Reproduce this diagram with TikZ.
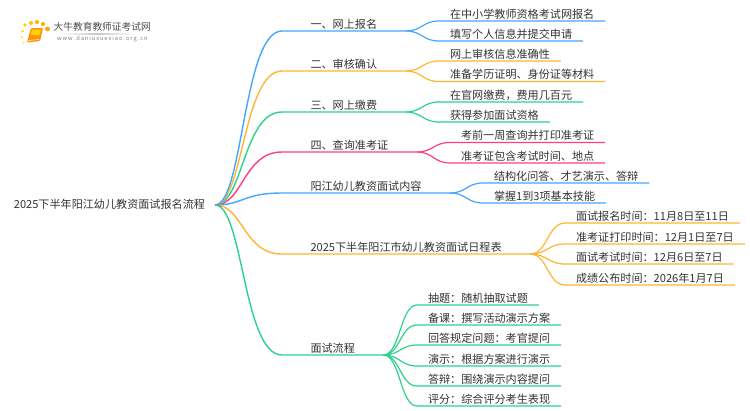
\documentclass[tikz,border=0pt]{standalone}
\usepackage{fontspec}
\setmainfont{Noto Sans CJK SC}
\usetikzlibrary{
  positioning,
  calc,         % Calculations $...$
}
\definecolor{myblue}{HTML}{45A5FF}
\definecolor{myorange}{HTML}{FFB432}
\definecolor{mygreen}{HTML}{2DD28C}
\definecolor{mypink}{HTML}{FF3C88}
\definecolor{mytext}{HTML}{333333}
\def\myfont{\fontsize{11.1}{13}\selectfont}
\tikzset{
  x=1pt,
  y=-1pt,
  my text/.style={
    font=\myfont,
    text=mytext,
    text height=10pt,
    text depth=3pt,
    inner ysep=0pt,
    outer sep=0pt
  },
  my root/.style={
    my text,
    anchor=east,
    inner xsep=10pt
  },
  my branch/.style={
    my text,
    anchor=south west,
    inner xsep=28.5pt
  },
  my leaf/.style={
    my text,
    anchor=south west,
    inner xsep=11pt
  },
  % Horizontal S-curve, control points at a fraction of the way
  link/.style={
    to path={
      let \p1=(\tikztostart), \p2=(\tikztotarget),
          \p3=($(\tikztostart)!#1!(\tikztotarget)$) in
      .. controls (\x3,\y1) and (\x3,\y2) .. (\tikztotarget) \tikztonodes
    }
  },
  main line/.style={
    link=0.42,
    line width=1.4pt
  },
  sub line/.style={
    link=0.5,
    line width=1.2pt
  }
}
\begin{document}
\begin{tikzpicture}
\useasboundingbox (0,0) rectangle (750,410);

% Logo
\foreach \dotx/\doty/\dotr/\dotc in {25/25/1.9/35,31/23/2/45,37/22/2.1/55,43/24/2.1/60,47.5/29/2.4/70,22.7/31/1.5/25,22/37/1.2/20,23.5/42.5/1/15}
  \fill[orange!\dotc!yellow] (\dotx,\doty) circle[radius=\dotr];
\fill[orange!85!yellow,rounded corners=1pt] (31,28) -- (43,28) -- (40,41) -- (27,42.5) -- cycle;
\fill[yellow!70!orange] (32,29.5) -- (41,29.5) -- (39.5,35) -- (30.7,35) -- cycle;
\draw[white,line width=.5pt] (28.5,40.5) -- (39,39.5);
\shade[left color=white,right color=white,middle color=black!22] (60,33) rectangle (135,34);
\node[font=\fontsize{9.7}{12}\selectfont,text=black!70,inner sep=0pt,anchor=west] (logo) at (53.5,27) {大牛教育教师证考试网};
\node[font=\fontsize{5.7}{8}\selectfont,text=black!50,inner sep=0pt,anchor=west] (url) at (57,39.2) {w\,w\,w\,.\,d\,a\,n\,i\,u\,x\,u\,e\,x\,i\,a\,o\,.\,o\,r\,g\,.\,c\,n};

\node[my root] (root) at (215,205) {2025下半年阳江幼儿教资面试报名流程};

\node[my branch] (one) at (282,31) {一、网上报名};
\node[my leaf] (one1) at (439,21) {在中小学教师资格考试网报名};
\node[my leaf] (one2) at (439,41) {填写个人信息并提交申请};

\node[my branch] (two) at (282,71) {二、审核确认};
\node[my leaf] (two1) at (439,61) {网上审核信息准确性};
\node[my leaf] (two2) at (439,81.5) {准备学历证明、身份证等材料};

\node[my branch] (three) at (282,112) {三、网上缴费};
\node[my leaf] (three1) at (439,102) {在官网缴费，费用几百元};
\node[my leaf] (three2) at (439,122) {获得参加面试资格};

\node[my branch] (four) at (282,152) {四、查询准考证};
\node[my leaf] (four1) at (450,142.5) {考前一周查询并打印准考证};
\node[my leaf] (four2) at (450,163) {准考证包含考试时间、地点};

\node[my branch] (content) at (282,193) {阳江幼儿教资面试内容};
\node[my leaf] (content1) at (483,183) {结构化问答、才艺演示、答辩};
\node[my leaf] (content2) at (483,203) {掌握1到3项基本技能};

\node[my branch] (sched) at (282,254) {2025下半年阳江市幼儿教资面试日程表};
\node[my leaf] (sched1) at (565,223) {面试报名时间：11月8日至11日};
\node[my leaf] (sched2) at (565,244) {准考证打印时间：12月1日至7日};
\node[my leaf] (sched3) at (565,264) {面试考试时间：12月6日至7日};
\node[my leaf] (sched4) at (565,285) {成绩公布时间：2026年1月7日};

\node[my branch] (flow) at (282,355) {面试流程};
\node[my leaf] (flow1) at (417,305) {抽题：随机抽取试题};
\node[my leaf] (flow2) at (417,325) {备课：撰写活动演示方案};
\node[my leaf] (flow3) at (417,345) {回答规定问题：考官提问};
\node[my leaf] (flow4) at (417,366) {演示：根据方案进行演示};
\node[my leaf] (flow5) at (417,386) {答辩：围绕演示内容提问};
\node[my leaf] (flow6) at (417,406) {评分：综合评分考生表现};

\draw[main line,myorange] (root.east) to (sched.south west) -- (sched.south east);
\draw[main line,mygreen] (root.east) to (flow.south west) -- (flow.south east);
\draw[main line,myblue] (root.east) to (content.south west) -- (content.south east);
\draw[main line,mypink] (root.east) to (four.south west) -- (four.south east);
\draw[main line,mygreen] (root.east) to (three.south west) -- (three.south east);
\draw[main line,myorange] (root.east) to (two.south west) -- (two.south east);
\draw[main line,myblue] (root.east) to (one.south west) -- (one.south east);

\foreach \myfrom/\myto/\mycol in {
  one/one1/myblue,one/one2/myblue,
  two/two1/myorange,two/two2/myorange,
  three/three1/mygreen,three/three2/mygreen,
  four/four1/mypink,four/four2/mypink,
  content/content1/myblue,content/content2/myblue,
  sched/sched1/myorange,sched/sched2/myorange,sched/sched3/myorange,sched/sched4/myorange,
  flow/flow1/mygreen,flow/flow2/mygreen,flow/flow3/mygreen,flow/flow4/mygreen,flow/flow5/mygreen,flow/flow6/mygreen}
  \draw[sub line,\mycol] (\myfrom.south east) to (\myto.south west) -- (\myto.south east);
\end{tikzpicture}
\end{document}
